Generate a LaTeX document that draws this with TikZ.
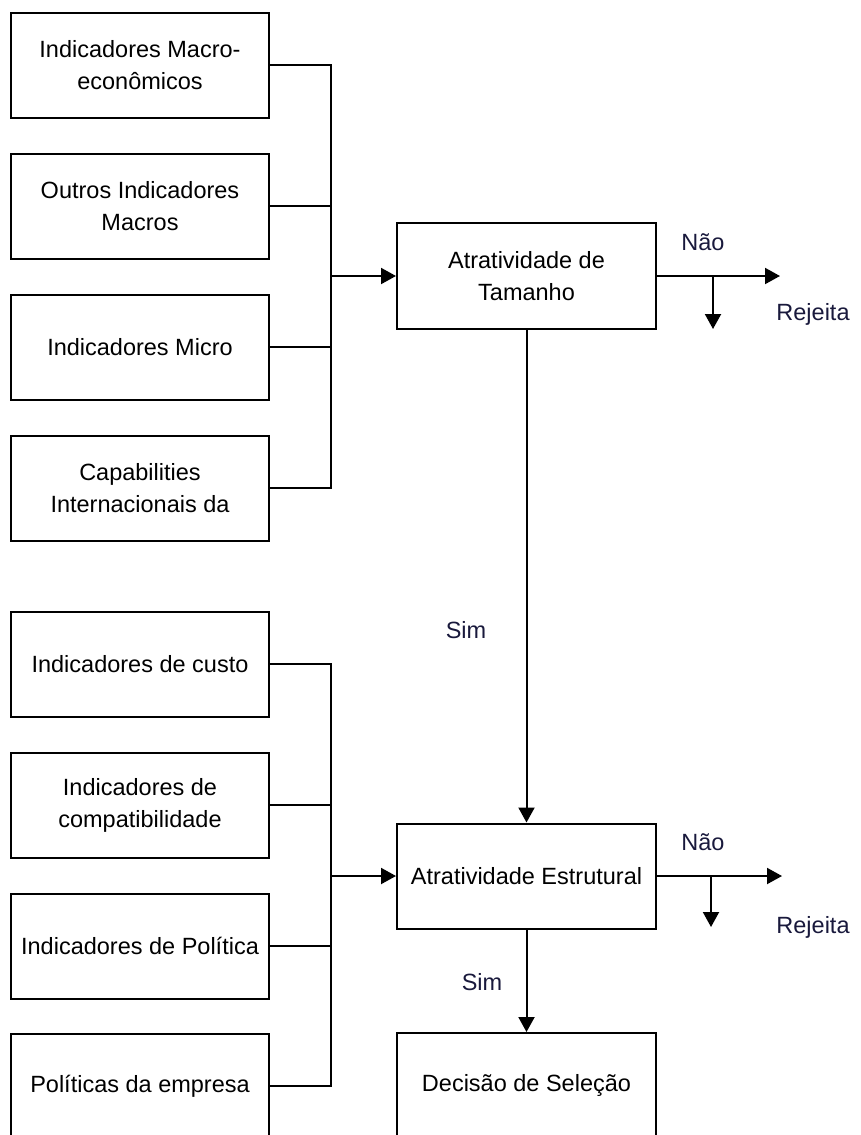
\documentclass[tikz,border=0pt]{standalone}
\usepackage{fontspec}
\setmainfont{Liberation Sans}
\usetikzlibrary{arrows.meta}
\definecolor{lbl}{RGB}{25,25,60}
\begin{document}
\begin{tikzpicture}[x=1pt,y=-1pt,
  box/.style={draw, line width=2pt, minimum width=258pt, minimum height=105pt, inner sep=0pt, align=center, font=\fontsize{23.5}{32}\selectfont},
  conn/.style={line width=2pt},
  arr/.style={line width=2pt, -{Triangle[length=15pt,width=16pt]}},
  lab/.style={text=lbl, font=\fontsize{23.5}{28}\selectfont, inner sep=0pt}]
\useasboundingbox (0,0) rectangle (860,1135);
% left boxes
\node[box] (b1) at (140,65) {Indicadores Macro-\\econômicos};
\node[box] (b2) at (140,206) {Outros Indicadores\\Macros};
\node[box] (b3) at (140,347) {Indicadores Micro};
\node[box] (b4) at (140,488) {Capabilities\\Internacionais da};
\node[box] (b5) at (140,664) {Indicadores de custo};
\node[box] (b6) at (140,805) {Indicadores de\\compatibilidade};
\node[box] (b7) at (140,946) {Indicadores de Política};
\node[box] (b8) at (140,1086) {Políticas da empresa};
% right boxes
\node[box, minimum width=259pt, minimum height=106pt] (tam) at (526.5,276) {Atratividade de\\Tamanho};
\node[box, minimum width=259pt] (est) at (526.5,876) {Atratividade Estrutural};
\node[box, minimum width=259pt] (dec) at (526.5,1085.5) {Decisão de Seleção};
% buses
\coordinate (busA) at (331,0);
\draw[conn] (b1.east) -- (b1.east -| busA) -- (b4.east -| busA) -- (b4.east);
\draw[conn] (b2.east) -- (b2.east -| busA);
\draw[conn] (b3.east) -- (b3.east -| busA);
\draw[arr] (tam.west -| busA) -- (tam.west);
\draw[conn] (b5.east) -- (b5.east -| busA) -- (b8.east -| busA) -- (b8.east);
\draw[conn] (b6.east) -- (b6.east -| busA);
\draw[conn] (b7.east) -- (b7.east -| busA);
\draw[arr] (est.west -| busA) -- (est.west);
% vertical flow
\draw[arr] (tam.south) -- (est.north);
\draw[arr] (est.south) -- (dec.north);
% Nao branches
\coordinate (n1end) at (780,276);
\coordinate (n1j) at (713,276);
\coordinate (n1d) at (713,329);
\draw[arr] (tam.east) -- (n1end);
\draw[arr] (n1j) -- (n1d);
\coordinate (n2end) at (782,876);
\coordinate (n2j) at (711,876);
\coordinate (n2d) at (711,927);
\draw[arr] (est.east) -- (n2end);
\draw[arr] (n2j) -- (n2d);
% labels
\node[lab] (nao1) at (703,242) {Não};
\node[lab] (rej1) at (813,314) {Rejeita};
\node[lab] (nao2) at (703,842) {Não};
\node[lab] (rej2) at (813,927) {Rejeita};
\node[lab] (sim1) at (466,630) {Sim};
\node[lab] (sim2) at (482,982) {Sim};
\end{tikzpicture}
\end{document}
